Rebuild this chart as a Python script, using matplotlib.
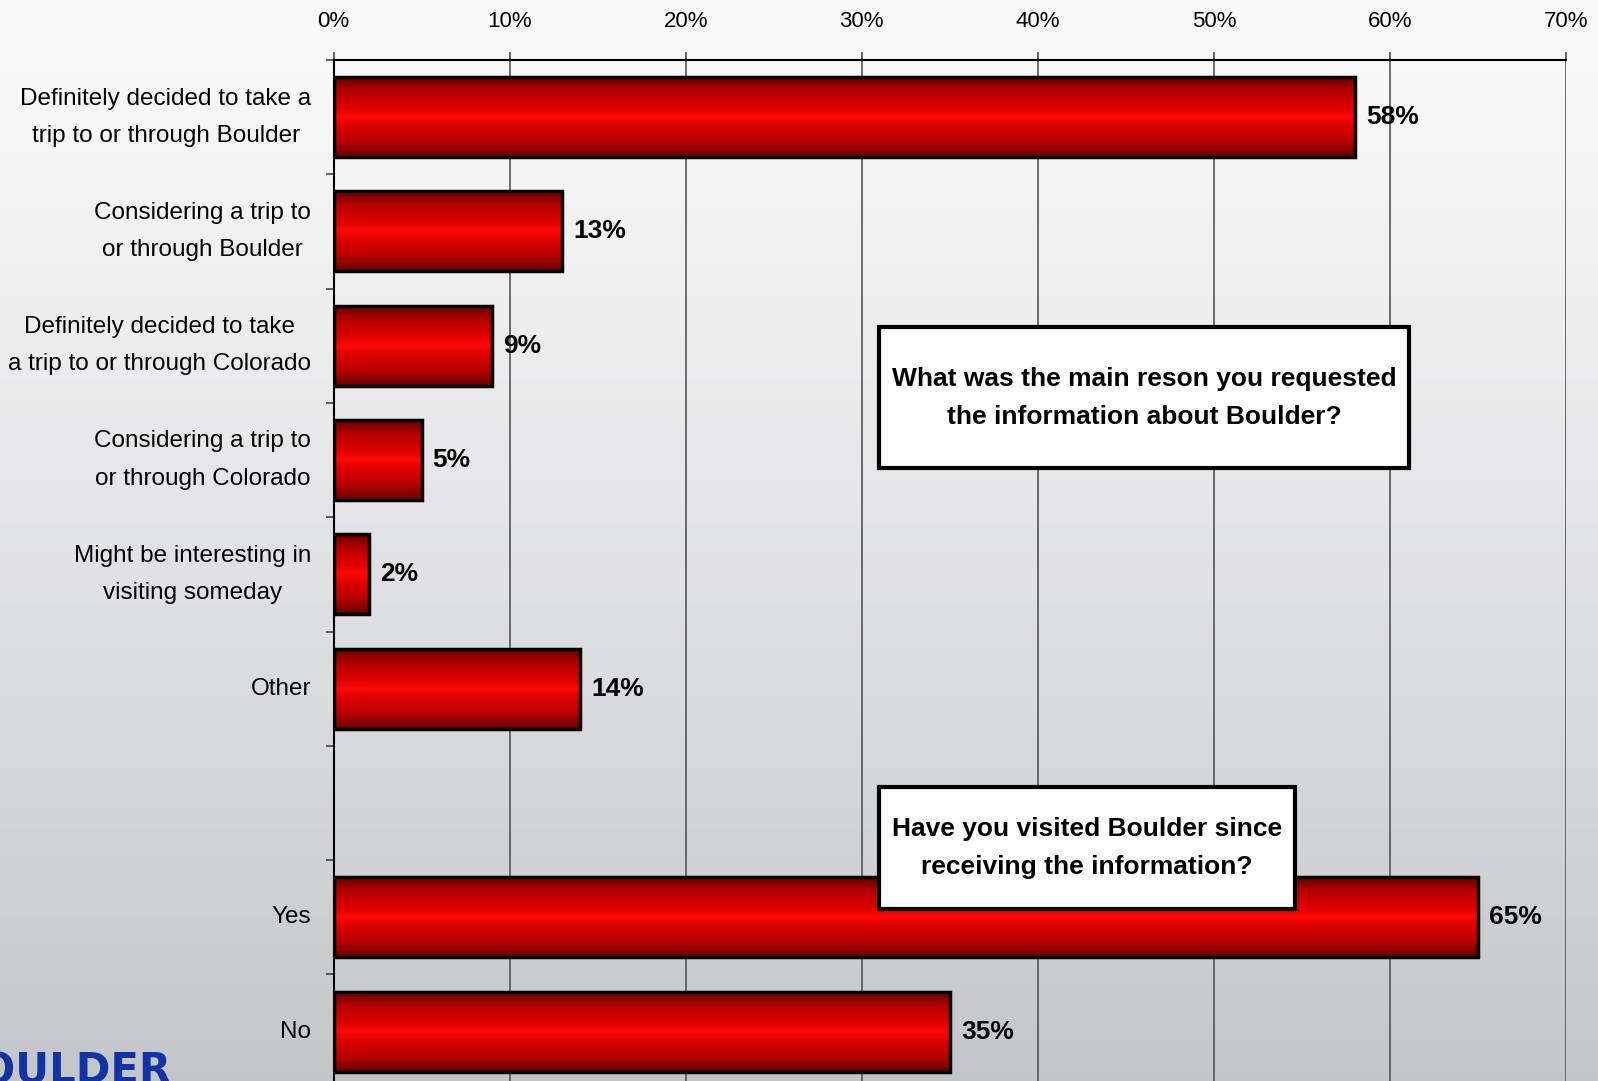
import numpy as np
import matplotlib
matplotlib.use("Agg")
import matplotlib.pyplot as plt
from matplotlib.colors import LinearSegmentedColormap
from matplotlib.patches import Rectangle
from matplotlib.ticker import FuncFormatter, MultipleLocator, FixedLocator

# survey answers, top to bottom (blank row separates the two questions)
categories = [
    "Definitely decided to take a\ntrip to or through Boulder",
    "Considering a trip to\nor through Boulder",
    "Definitely decided to take\na trip to or through Colorado",
    "Considering a trip to\nor through Colorado",
    "Might be interesting in\nvisiting someday",
    "Other",
    "",
    "Yes",
    "No",
]
shares = [58, 13, 9, 5, 2, 14, np.nan, 65, 35]
x_max = 70

question_1 = "What was the main reson you requested\nthe information about Boulder?"
question_2 = "Have you visited Boulder since\nreceiving the information?"

plt.rcParams["font.family"] = ["Liberation Sans", "DejaVu Sans"]

W, H = 1598, 1081
fig = plt.figure(figsize=(W / 100, H / 100), dpi=100)

# slide background: light at the top, grey towards the bottom
bg = fig.add_axes([0, 0, 1, 1], zorder=-10)
t = np.linspace(0, 1, 256) ** 1.2
top, bot = np.array([0.98, 0.98, 0.98]), np.array([0.77, 0.775, 0.79])
grad = top[None, :] * (1 - t[:, None]) + bot[None, :] * t[:, None]
bg.imshow(grad[:, None, :], aspect="auto", extent=(0, 1, 0, 1))
bg.axis("off")

left, right = 333.5 / W, 1566 / W
top_px, slot_px = 60, 114.3
n = len(categories)
ax = fig.add_axes([left, 1 - (top_px + n * slot_px) / H, right - left, n * slot_px / H])
ax.patch.set_alpha(0)

# bar shading: dark red rims, bright red centre line
red = LinearSegmentedColormap.from_list(
    "shade", [(0, "#640000"), (0.4, "#bb0000"), (0.8, "#e00000"), (1, "#ff0808")])
prof = 1 - np.abs(np.linspace(-1, 1, 200))
bar_h = 0.7
ypos = np.arange(n)
filled = [(y, v) for y, v in zip(ypos, shares) if not np.isnan(v)]
for y, v in filled:
    ax.imshow(prof[:, None], cmap=red, vmin=0, vmax=1, aspect="auto",
              extent=(0, v, y + bar_h / 2, y - bar_h / 2), zorder=2,
              interpolation="bilinear")
    ax.annotate(f"{v:.0f}%", (v, y), xytext=(8, 0), textcoords="offset points",
                va="center", ha="left", fontsize=19, fontweight="bold")
ax.barh([y for y, _ in filled], [v for _, v in filled], height=bar_h,
        facecolor="none", edgecolor="black", linewidth=2.5, zorder=3)

ax.set_xlim(0, x_max)
ax.set_ylim(n - 0.5, -0.5)

ax.xaxis.set_major_locator(MultipleLocator(10))
ax.xaxis.set_major_formatter(FuncFormatter(lambda x, p: f"{x:.0f}%"))
ax.xaxis.tick_top()
ax.tick_params(axis="x", length=6, width=1.2, color="#444444", labelsize=16, pad=14)
ax.grid(axis="x", color="#555555", linewidth=1.2, zorder=1)

ax.yaxis.set_major_locator(FixedLocator(ypos))
ax.set_yticklabels(categories, multialignment="center", linespacing=1.9, fontsize=17.5)
for lab in ax.get_yticklabels():
    lab.set_va("center")
ax.yaxis.set_minor_locator(FixedLocator(np.arange(n + 1) - 0.5))
ax.tick_params(axis="y", which="major", length=0, pad=16)
ax.tick_params(axis="y", which="minor", length=6, width=1.2, color="#444444")

for s in ("right", "bottom"):
    ax.spines[s].set_visible(False)
ax.spines["top"].set_linewidth(1.5)
ax.spines["left"].set_linewidth(1.5)

# question call-outs
for (x0, x1, y0, y1), txt in [((31.0, 61.1, 1.84, 3.07), question_1),
                               ((31.0, 54.6, 5.86, 6.93), question_2)]:
    ax.add_patch(Rectangle((x0, y0), x1 - x0, y1 - y0, facecolor="white",
                           edgecolor="black", linewidth=3, zorder=5))
    ax.text((x0 + x1) / 2, (y0 + y1) / 2, txt, ha="center", va="center",
            fontsize=19, fontweight="bold", linespacing=1.75, zorder=6)

# logo peeking in at the bottom-left corner
fig.text(171 / W, 1 - 1050 / H, "BOULDER", ha="right", va="top",
         fontsize=30, fontweight="bold", color="#1233a6",
         family=["DejaVu Sans"])

fig.savefig("out.png", dpi=100)
